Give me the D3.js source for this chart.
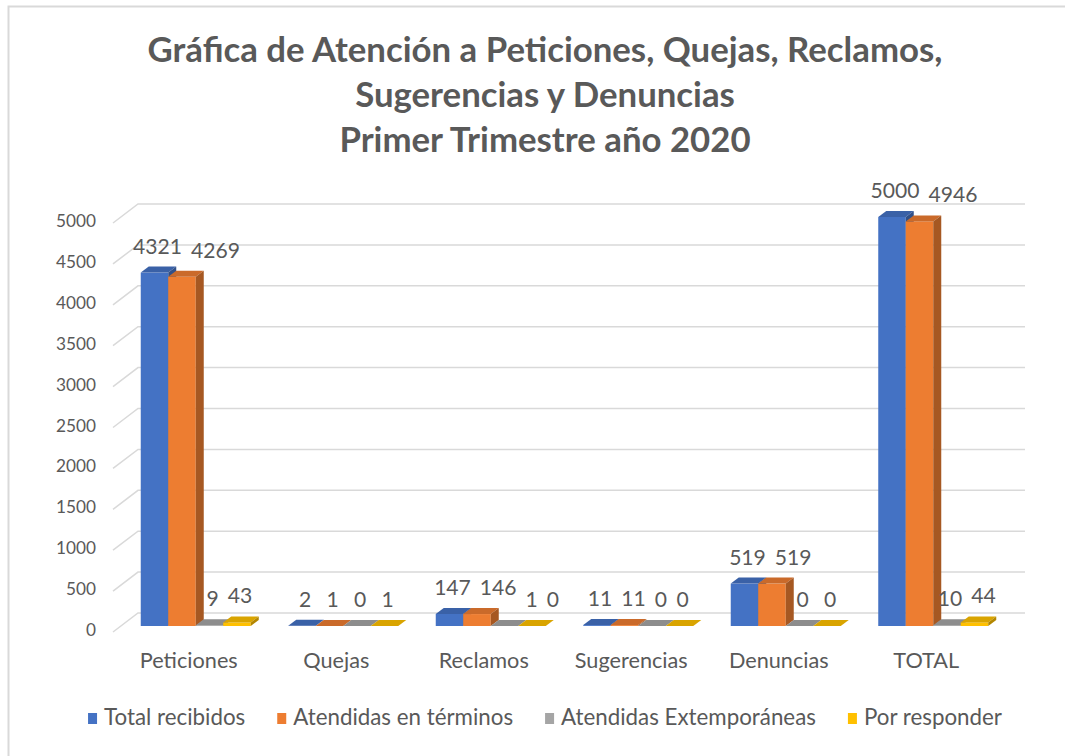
<!DOCTYPE html>
<html><head><meta charset="utf-8">
<script src="https://cdn.jsdelivr.net/npm/d3@7"></script>
<style>
html,body{margin:0;padding:0;background:#fff;}
svg{display:block;font-family:Lato, "Open Sans", sans-serif;}
</style></head>
<body>
<svg id="chart" width="1065" height="756"></svg>
<script>
const categories = ["Peticiones","Quejas","Reclamos","Sugerencias","Denuncias","TOTAL"];
const seriesNames = ["Total recibidos","Atendidas en términos","Atendidas Extemporáneas","Por responder"];
const totalRecibidos = [4321,2,147,11,519,5000];
const atendidasTerminos = [4269,1,146,11,519,4946];
const atendidasExtemporaneas = [9,0,1,0,0,10];
const porResponder = [43,1,0,0,0,44];
const yTicks = [0,500,1000,1500,2000,2500,3000,3500,4000,4500,5000];
const titleLines = ["Gráfica de Atención a Peticiones, Quejas, Reclamos,","Sugerencias y Denuncias","Primer Trimestre año 2020"];
const colors = ["#4472C4","#ED7D31","#A5A5A5","#FFC000"];

const seriesValues = [totalRecibidos, atendidasTerminos, atendidasExtemporaneas, porResponder];
const svg = d3.select("#chart");
const textColor = "#595959";

// border of chart area
svg.append("rect").attr("x",8.5).attr("y",6.5).attr("width",1100).attr("height",800)
  .attr("fill","none").attr("stroke","#d9d9d9").attr("stroke-width",2);

// font fitting helper
function fitSize(str, target, weight, base){
  const t = svg.append("text").attr("font-size",base).attr("font-weight",weight||"normal").text(str);
  const w = t.node().getComputedTextLength();
  t.remove();
  return base*target/w;
}
const axisFont = fitSize("Peticiones", 98, "normal", 20);
const tickFont = fitSize("5000", 40, "normal", 20);
const valueFont = fitSize("4321", 49, "normal", 20);
const legendFont = fitSize("Atendidas Extemporáneas", 255, "normal", 20);
const titleFont = fitSize(titleLines[0], 795, "bold", 28);

// scales
const x0 = d3.scaleBand().domain(categories).range([115,1000]);
const groupW = 110;
const x1 = d3.scaleBand().domain(seriesNames).range([0,groupW]);
const y = d3.scaleLinear().domain([0,5000]).range([626,217]);

// 3D geometry
const wallDx = 25, wallDy = -19, frontOff = 6;
const barDx = 8, barDy = -6, barShift = 7;
const leftX = 113, rightX = 1025;

// gridlines (side wall diagonals + back wall)
const grid = svg.append("g").attr("stroke","#d9d9d9").attr("stroke-width",1.5).attr("fill","none");
grid.selectAll("path").data(yTicks).join("path")
  .attr("d", t => {
    const yf = y(t)+frontOff, yb = yf + wallDy;
    return `M${leftX},${yf}L${leftX+wallDx},${yb}L${rightX},${yb}`;
  });

// y axis labels
const yAxis = d3.axisLeft(y).tickValues(yTicks).tickFormat(d3.format("d")).tickSize(0).tickPadding(0);
const gy = svg.append("g").attr("transform","translate(96,4)").call(yAxis);
gy.select(".domain").remove();
gy.selectAll("text").attr("font-size",tickFont).attr("fill",textColor).attr("font-family","Lato");

// category labels
const xAxis = d3.axisBottom(x0).tickSize(0).tickPadding(0);
const gx = svg.append("g").attr("transform","translate(0,668)").call(xAxis);
gx.select(".domain").remove();
gx.selectAll("text").attr("dy",0).attr("font-size",axisFont).attr("fill",textColor).attr("font-family","Lato");

// bars
const barsData = [];
categories.forEach((c,ci)=>{
  seriesNames.forEach((s,si)=>{
    barsData.push({c, ci, s, si, v: seriesValues[si][ci]});
  });
});
const bx = d => x0(d.c) + x0.bandwidth()/2 + barShift - groupW/2 + x1(d.s);
const bw = x1.bandwidth();

const gb = svg.append("g");
const barG = gb.selectAll("g").data(barsData).join("g");
// front
barG.append("rect")
  .attr("x", bx).attr("y", d=>y(d.v)).attr("width", bw).attr("height", d=>y(0)-y(d.v))
  .attr("fill", d=>colors[d.si]);
// top
barG.append("path")
  .attr("d", d=>{const x=bx(d), yt=y(d.v);
    return `M${x},${yt}L${x+barDx},${yt+barDy}L${x+bw+barDx},${yt+barDy}L${x+bw},${yt}Z`;})
  .attr("fill", d=>d3.color(colors[d.si]).darker(0.45));
// side
barG.append("path")
  .attr("d", d=>{const x=bx(d)+bw, yt=y(d.v), yb=y(0);
    return `M${x},${yt}L${x+barDx},${yt+barDy}L${x+barDx},${yb+barDy}L${x},${yb}Z`;})
  .attr("fill", d=>d3.color(colors[d.si]).darker(1.0));

// value labels with simple overlap avoidance inside each group
const labels = svg.append("g").selectAll("text").data(barsData).join("text")
  .attr("y", d=>y(d.v)-19)
  .attr("text-anchor","start")
  .attr("font-size",valueFont)
  .attr("fill",textColor)
  .text(d=>d.v);
const labelGap = 9;
let prev = null;
labels.each(function(d){
  const w = this.getComputedTextLength();
  let left = bx(d) + bw/2 + 3 - w/2;
  const ly = y(d.v) - 19;
  if (prev && prev.ci === d.ci && Math.abs(prev.y - ly) < valueFont && left < prev.right + labelGap) {
    left = prev.right + labelGap;
  }
  d3.select(this).attr("x", left);
  prev = {ci:d.ci, y:ly, right:left + w};
});

// title
svg.append("g").selectAll("text").data(titleLines).join("text")
  .attr("x",545).attr("y",(d,i)=>62+i*45)
  .attr("text-anchor","middle").attr("font-weight","bold")
  .attr("font-size",titleFont).attr("fill",textColor)
  .text(d=>d);

// legend
const lg = svg.append("g");
const items = lg.selectAll("g").data(seriesNames).join("g");
items.append("rect").attr("width",9).attr("height",11).attr("y",-12).attr("fill",(d,i)=>colors[i]);
items.append("text").attr("x",16).attr("y",0).attr("font-size",legendFont).attr("fill",textColor).text(d=>d);
const widths = [];
items.each(function(){ widths.push(16 + d3.select(this).select("text").node().getComputedTextLength()); });
const gap = 32;
const total = d3.sum(widths) + gap*(widths.length-1);
let cx = 545 - total/2;
items.attr("transform",(d,i)=>{const t=`translate(${cx},725)`; cx += widths[i]+gap; return t;});
</script>
</body></html>
